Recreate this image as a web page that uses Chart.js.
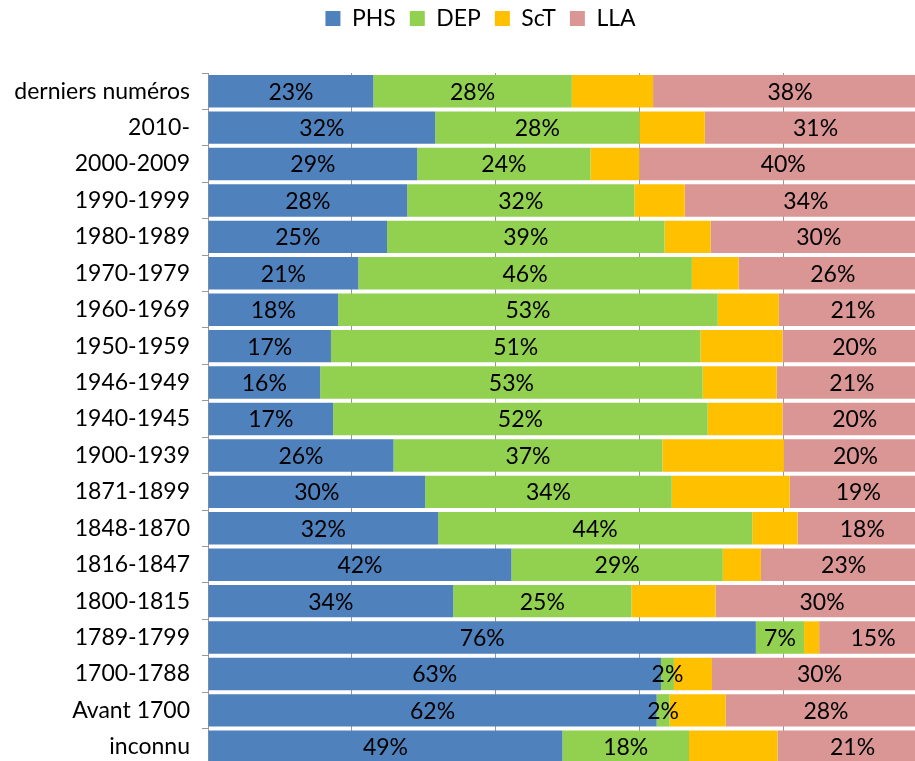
<!DOCTYPE html>
<html lang="fr">
<head>
  <meta charset="UTF-8" />
  <title>Répartition par période</title>
  <script src="https://cdn.jsdelivr.net/npm/chart.js"></script>
  <style>
    html, body { margin: 0; padding: 0; background: #fff; overflow: hidden; }
    #wrap { position: absolute; left: 0; top: 0; width: 962px; height: 770px; }
  </style>
</head>
<body>
  <div id="wrap"><canvas id="chart" width="962" height="770"></canvas></div>

  <script>
    const periods = ['derniers numéros', '2010-', '2000-2009', '1990-1999', '1980-1989', '1970-1979',
      '1960-1969', '1950-1959', '1946-1949', '1940-1945', '1900-1939', '1871-1899', '1848-1870',
      '1816-1847', '1800-1815', '1789-1799', '1700-1788', 'Avant 1700', 'inconnu'];

    const phs = [23.0, 31.6, 29.1, 27.7, 24.9, 20.9, 18.1, 17.1, 15.6, 17.4, 25.8, 30.2, 32.0, 42.2, 34.1, 76.2, 63.0, 62.4, 49.3];
    const dep = [27.6, 28.4, 24.1, 31.6, 38.6, 46.4, 52.8, 51.4, 53.2, 52.1, 37.4, 34.3, 43.7, 29.4, 24.8, 6.7, 1.8, 1.8, 17.6];
    const sct = [11.3, 9.1, 6.8, 7.0, 6.4, 6.5, 8.5, 11.4, 10.3, 10.4, 16.9, 16.4, 6.3, 5.3, 11.7, 2.1, 5.3, 7.8, 12.3];
    const lla = [38.1, 30.8, 40.0, 33.7, 30.1, 26.2, 20.6, 20.1, 20.9, 20.1, 19.9, 19.1, 18.0, 23.0, 29.6, 15.0, 29.9, 27.9, 20.9];

    const FONT = 'Lato, "Open Sans", sans-serif';
    const FONT_SIZE = 23;

    // labels in the middle of each segment, ScT has none
    const barLabels = {
      id: 'barLabels',
      afterDatasetsDraw(chart) {
        const ctx = chart.ctx;
        ctx.save();
        ctx.font = FONT_SIZE + 'px ' + FONT;
        ctx.fillStyle = '#000';
        ctx.textAlign = 'center';
        ctx.textBaseline = 'middle';
        chart.data.datasets.forEach((ds, i) => {
          if (ds.label === 'ScT') return;
          chart.getDatasetMeta(i).data.forEach((bar, j) => {
            const x = (bar.x + bar.base) / 2;
            ctx.fillText(Math.round(ds.data[j]) + '%', x, bar.y + 1);
          });
        });
        ctx.restore();
      }
    };

    // legend: more room below it, and centred on the whole canvas
    const legendTweak = {
      id: 'legendTweak',
      beforeInit(chart) {
        const lg = chart.legend;
        const fit = lg.fit;
        lg.fit = function () {
          fit.call(this);
          this.height = 80;
        };
        const draw = lg.draw;
        lg.draw = function () {
          this.ctx.save();
          this.ctx.translate(17, 0);
          draw.call(this);
          this.ctx.restore();
        };
      }
    };

    new Chart(document.getElementById('chart'), {
      type: 'bar',
      data: {
        labels: periods,
        datasets: [
          { label: 'PHS', data: phs, backgroundColor: '#4F81BD' },
          { label: 'DEP', data: dep, backgroundColor: '#92D050' },
          { label: 'ScT', data: sct, backgroundColor: '#FFC000' },
          { label: 'LLA', data: lla, backgroundColor: '#D99694' }
        ]
      },
      options: {
        indexAxis: 'y',
        responsive: false,
        animation: false,
        layout: { padding: { left: 0, right: 35, top: -7, bottom: 5 } },
        datasets: { bar: { categoryPercentage: 1, barPercentage: 0.89 } },
        scales: {
          x: {
            stacked: true,
            min: 0,
            max: 100,
            afterFit(scale) { scale.height = 0; scale.paddingLeft = 0; scale.paddingRight = 0; },
            ticks: { display: false, stepSize: 20 },
            grid: { color: '#999999', lineWidth: 1, drawTicks: false },
            border: { display: false }
          },
          y: {
            stacked: true,
            afterFit(scale) { scale.width = 208; scale.paddingTop = 0; scale.paddingBottom = 0; },
            ticks: { color: '#000', font: { family: FONT, size: FONT_SIZE }, padding: 12 },
            grid: { offset: true, drawOnChartArea: false, drawTicks: true, tickLength: 6, color: '#999999' },
            border: { display: true, color: '#999999', width: 1 }
          }
        },
        plugins: {
          legend: {
            position: 'top',
            labels: {
              color: '#000',
              font: { family: FONT, size: FONT_SIZE },
              boxWidth: 15,
              boxHeight: 15,
              padding: 14
            }
          },
          tooltip: { enabled: false }
        }
      },
      plugins: [legendTweak, barLabels]
    });
  </script>
</body>
</html>
